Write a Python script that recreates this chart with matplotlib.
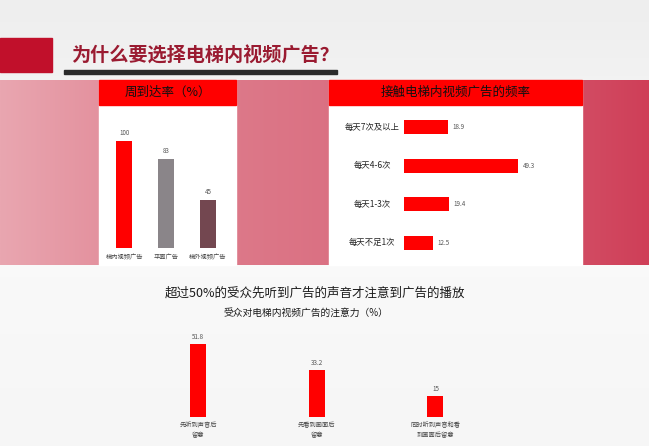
import numpy as np
import matplotlib
matplotlib.use("Agg")
import matplotlib.pyplot as plt
from matplotlib.patches import Rectangle

plt.rcParams['font.family'] = ['Noto Sans CJK SC', 'DejaVu Sans']

# data
reach_cats = ["梯内视频广告", "平面广告", "梯外视频广告"]
reach_vals = [100, 83, 45]
reach_colors = ["#ff0000", "#8a8589", "#734750"]

freq_cats = ["每天7次及以上", "每天4-6次", "每天1-3次", "每天不足1次"]
freq_vals = [18.9, 49.3, 19.4, 12.5]

attn_cats = ["先听到声音后\n留意", "先看到画面后\n留意", "同时听到声音和看\n到画面后留意"]
attn_vals = [51.8, 33.2, 15]

W, H = 649, 446
fig = plt.figure(figsize=(W / 100, H / 100), dpi=100)


def px_axes(x0, y0, x1, y1):
    # pixel box (top-left origin) -> figure axes
    return fig.add_axes([x0 / W, 1 - y1 / H, (x1 - x0) / W, (y1 - y0) / H])


# background / decoration layer
bg = fig.add_axes([0, 0, 1, 1])
bg.set_xlim(0, W)
bg.set_ylim(H, 0)
bg.axis("off")
vgrad = np.linspace(0, 1, 100).reshape(-1, 1)
bg.imshow(vgrad, extent=[0, W, H, 0], cmap=matplotlib.colors.LinearSegmentedColormap.from_list(
    "bgv", ["#eeeeee", "#fafafa", "#f6f6f6"]), aspect="auto", zorder=0)

# pink band with horizontal gradient
hgrad = np.linspace(0, 1, 256).reshape(1, -1)
band_cmap = matplotlib.colors.LinearSegmentedColormap.from_list(
    "band", ["#e9a6b0", "#dd7a8a", "#d8687c", "#cf3f58"])
bg.imshow(hgrad, extent=[0, W, 265, 80], cmap=band_cmap, aspect="auto", zorder=1)

# title decoration
bg.add_patch(Rectangle((0, 38), 52, 34, color="#c1102b", zorder=2))
bg.add_patch(Rectangle((64, 70), 273, 4, color="#2b2b2b", zorder=2))
bg.text(71, 56, "为什么要选择电梯内视频广告？", fontsize=13.8, color="#9a1b31",
        fontweight="bold", va="center", ha="left", zorder=3)

# panels
bg.add_patch(Rectangle((99, 80), 137, 185, color="white", zorder=2))
bg.add_patch(Rectangle((99, 80), 137, 25, color="#ff0000", zorder=3))
bg.text(167.5, 92.5, "周到达率（%）", fontsize=9, ha="center", va="center", color="#111111", zorder=4)

bg.add_patch(Rectangle((329, 80), 253, 185, color="white", zorder=2))
bg.add_patch(Rectangle((329, 80), 253, 25, color="#ff0000", zorder=3))
bg.text(455.5, 92.5, "接触电梯内视频广告的频率", fontsize=9, ha="center", va="center", color="#111111", zorder=4)

# bottom titles
bg.text(315, 293, "超过50%的受众先听到广告的声音才注意到广告的播放", fontsize=9,
        fontweight="medium", ha="center", va="center", color="#1a1a1a", zorder=4)
bg.text(306, 313, "受众对电梯内视频广告的注意力（%）", fontsize=7,
        ha="center", va="center", color="#1a1a1a", zorder=4)

# left chart: reach
ax1 = px_axes(99, 110, 236, 248)
x1 = np.arange(len(reach_cats))
ax1.bar(x1, reach_vals, width=0.38, color=reach_colors)
ax1.set_xlim(-0.6, 2.67)
ax1.set_ylim(0, 129)
for xi, v in zip(x1, reach_vals):
    ax1.text(xi, v + 4, str(v), ha="center", va="bottom", fontsize=4.5, color="#555555")
ax1.set_xticks(x1)
ax1.set_xticklabels(reach_cats, fontsize=4.5, color="#444444")
ax1.tick_params(axis="x", length=0, pad=4)
ax1.set_yticks([])
for s in ax1.spines.values():
    s.set_visible(False)
ax1.patch.set_alpha(0)

# right chart: frequency
ax2 = px_axes(404, 108, 580, 262)
y2 = np.arange(len(freq_cats))
ax2.barh(y2, freq_vals, height=0.36, color="#ff0000")
ax2.set_ylim(len(freq_cats) - 0.5, -0.5)
ax2.set_xlim(0, 76)
for yi, v in zip(y2, freq_vals):
    ax2.text(v + 2, yi, str(v), ha="left", va="center", fontsize=4.5, color="#555555")
    ax2.text(-32 / 176 * 76, yi, freq_cats[yi], ha="center", va="center",
             fontsize=6, color="#222222")
ax2.set_xticks([])
ax2.set_yticks([])
for s in ax2.spines.values():
    s.set_visible(False)
ax2.patch.set_alpha(0)

# bottom chart: attention
ax3 = px_axes(150, 330, 490, 417)
x3 = np.arange(len(attn_cats))
ax3.bar(x3, attn_vals, width=0.135, color="#ff0000")
ax3.set_xlim(-0.405, 2.46)
ax3.set_ylim(0, 61.7)
for xi, v in zip(x3, attn_vals):
    ax3.text(xi, v + 2, str(v), ha="center", va="bottom", fontsize=4.5, color="#555555")
ax3.set_xticks(x3)
ax3.set_xticklabels(attn_cats, fontsize=4.5, color="#444444", linespacing=1.3)
ax3.tick_params(axis="x", length=0, pad=3)
ax3.set_yticks([])
for s in ax3.spines.values():
    s.set_visible(False)
ax3.patch.set_alpha(0)

fig.savefig("out.png", dpi=100)
